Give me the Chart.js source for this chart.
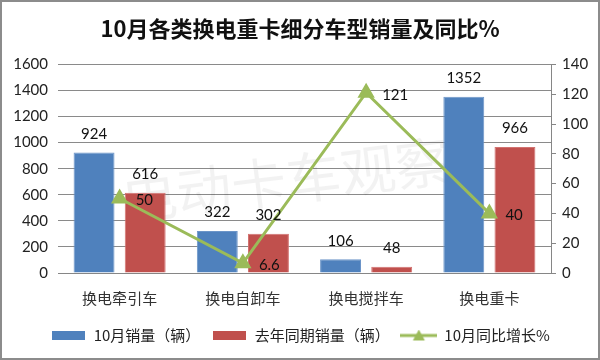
<!DOCTYPE html>
<html>
<head>
<meta charset="utf-8">
<script src="https://cdn.jsdelivr.net/npm/chart.js@4.4.1/dist/chart.umd.min.js"></script>
<style>
  html, body { margin: 0; padding: 0; background: #fff; }
  #wrap { width: 600px; height: 360px; box-sizing: border-box; border: 2px solid #8c8c8c; background: #fff; }
  canvas { display: block; }
</style>
</head>
<body>
<div id="wrap"><canvas id="myChart" width="596" height="356"></canvas></div>
<script>
const categories = ["换电牵引车", "换电自卸车", "换电搅拌车", "换电重卡"];
const salesOct = [924, 322, 106, 1352];
const salesLastYear = [616, 302, 48, 966];
const yoyGrowth = [50, 6.6, 121, 40];
const leftTicks = [0, 200, 400, 600, 800, 1000, 1200, 1400, 1600];
const rightTicks = [0, 20, 40, 60, 80, 100, 120, 140];

const cjk = "'Noto Sans CJK SC', 'Noto Sans', sans-serif";
const num = "Lato, 'Liberation Sans', sans-serif";

// little pictures for the legend
function legendRect(color) {
  const c = document.createElement("canvas");
  c.width = 33;
  c.height = 9;
  const g = c.getContext("2d");
  g.fillStyle = color;
  g.fillRect(0, 0, 33, 9);
  return c;
}
function legendLine(color) {
  const c = document.createElement("canvas");
  c.width = 37;
  c.height = 12;
  const g = c.getContext("2d");
  g.strokeStyle = color;
  g.lineWidth = 3;
  g.beginPath();
  g.moveTo(0, 6);
  g.lineTo(37, 6);
  g.stroke();
  g.fillStyle = color;
  g.beginPath();
  g.moveTo(18.5, 0);
  g.lineTo(24.5, 11);
  g.lineTo(12.5, 11);
  g.closePath();
  g.fill();
  return c;
}
const legendIcons = [legendRect("#4F81BD"), legendRect("#C0504D"), legendLine("#9BBB59")];

const watermark = {
  id: "watermark",
  beforeDatasetsDraw(chart) {
    const ctx = chart.ctx;
    ctx.save();
    ctx.translate(284, 178);
    ctx.rotate(-7 * Math.PI / 180);
    ctx.font = "55px " + cjk;
    ctx.fillStyle = "rgba(0,0,0,0.05)";
    ctx.textAlign = "center";
    ctx.textBaseline = "middle";
    ctx.fillText("电动卡车观察", 0, 0);
    ctx.restore();
  },
};

const valueLabels = {
  id: "valueLabels",
  afterDatasetsDraw(chart) {
    const ctx = chart.ctx;
    ctx.save();
    ctx.font = "15px " + num;
    ctx.fillStyle = "#111";
    chart.data.datasets.forEach((ds, i) => {
      const meta = chart.getDatasetMeta(i);
      meta.data.forEach((el, j) => {
        const v = ds.data[j];
        if (ds.type === "line") {
          ctx.textAlign = "left";
          ctx.textBaseline = "middle";
          ctx.fillText(String(v), el.x + 16, el.y + 2);
        } else {
          ctx.textAlign = "center";
          ctx.textBaseline = "bottom";
          ctx.fillText(String(v), el.x, el.y - 11);
        }
      });
    });
    ctx.restore();
  },
};

const ctx = document.getElementById("myChart");

new Chart(ctx, {
  data: {
    labels: categories,
    datasets: [
      {
        type: "line",
        label: "10月同比增长%",
        data: yoyGrowth,
        yAxisID: "y1",
        borderColor: "#9BBB59",
        backgroundColor: "#9BBB59",
        borderWidth: 3,
        pointStyle: "triangle",
        pointRadius: 7,
        pointHoverRadius: 7,
        tension: 0,
        order: 0,
      },
      {
        type: "bar",
        label: "10月销量（辆）",
        data: salesOct,
        yAxisID: "y",
        backgroundColor: "#4F81BD",
        borderColor: "#6C95C8",
        borderWidth: 1,
        categoryPercentage: 0.83,
        barPercentage: 0.8,
        order: 1,
      },
      {
        type: "bar",
        label: "去年同期销量（辆）",
        data: salesLastYear,
        yAxisID: "y",
        backgroundColor: "#C0504D",
        borderColor: "#D27270",
        borderWidth: 1,
        categoryPercentage: 0.83,
        barPercentage: 0.8,
        order: 1,
      },
    ],
  },
  options: {
    responsive: false,
    animation: false,
    layout: { padding: { left: 0, right: 0, top: 0, bottom: 5 } },
    plugins: {
      title: {
        display: true,
        text: "10月各类换电重卡细分车型销量及同比%",
        color: "#111",
        font: { family: cjk, size: 22, weight: "bold" },
        padding: { top: 13, bottom: 23 },
      },
      legend: {
        position: "bottom",
        labels: {
          usePointStyle: true,
          pointStyleWidth: 36,
          color: "#222",
          font: { family: cjk, size: 15 },
          padding: 11,
          generateLabels(chart) {
            const order = [1, 2, 0];
            return order.map((idx, k) => ({
              text: chart.data.datasets[idx].label,
              pointStyle: legendIcons[k],
              datasetIndex: idx,
              fillStyle: chart.data.datasets[idx].backgroundColor,
              strokeStyle: chart.data.datasets[idx].backgroundColor,
              lineWidth: 0,
              fontColor: "#222",
              hidden: false,
            }));
          },
        },
      },
      tooltip: { enabled: false },
    },
    scales: {
      x: {
        grid: { display: false },
        border: { display: true, color: "#868686", width: 1 },
        ticks: { color: "#333", font: { family: cjk, size: 15 }, padding: 8 },
        afterFit(scale) {
          scale.height = 44;
        },
      },
      y: {
        position: "left",
        min: 0,
        max: 1600,
        afterBuildTicks(scale) {
          scale.ticks = leftTicks.map((v) => ({ value: v }));
        },
        grid: { color: "#8a8a8a", lineWidth: 1, drawTicks: false },
        border: { display: false },
        ticks: {
          color: "#222",
          font: { family: num, size: 15 },
          padding: 10,
          callback: (v) => String(v),
        },
        afterFit(scale) {
          scale.width = 56;
        },
      },
      y1: {
        position: "right",
        min: 0,
        max: 140,
        afterBuildTicks(scale) {
          scale.ticks = rightTicks.map((v) => ({ value: v }));
        },
        grid: { drawOnChartArea: false, drawTicks: true, tickLength: 5, color: "#868686" },
        border: { display: true, color: "#868686", width: 1 },
        ticks: {
          color: "#222",
          font: { family: num, size: 15 },
          padding: 6,
          callback: (v) => String(v),
        },
        afterFit(scale) {
          scale.width = 47;
        },
      },
    },
  },
  plugins: [watermark, valueLabels],
});
</script>
</body>
</html>
